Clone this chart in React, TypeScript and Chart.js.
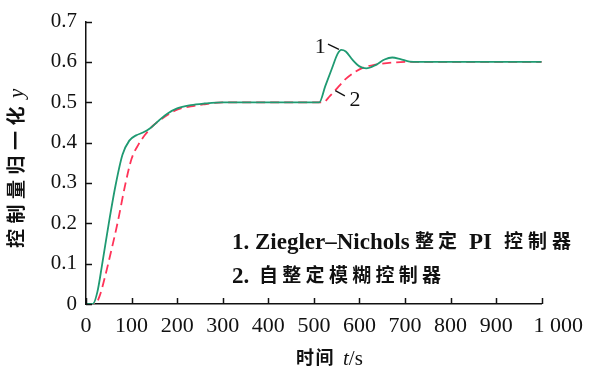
import React, { useEffect, useRef } from "react";
import { Chart, registerables } from "chart.js";

Chart.register(...registerables);

// Curve 1: Ziegler–Nichols tuned PI controller
const timeZN = [0, 15, 25, 35, 50, 65, 80, 95, 110, 125, 140, 160, 180, 200, 230, 260, 300, 400, 512, 525, 540, 552, 560, 570, 585, 600, 615, 635, 655, 672, 690, 710, 730, 800, 900, 1000];
const valueZN = [0, 0, 0.03, 0.095, 0.2, 0.295, 0.37, 0.405, 0.418, 0.425, 0.435, 0.455, 0.473, 0.485, 0.493, 0.497, 0.5, 0.5, 0.5, 0.54, 0.585, 0.62, 0.63, 0.626, 0.605, 0.589, 0.584, 0.592, 0.606, 0.611, 0.607, 0.601, 0.6, 0.6, 0.6, 0.6];

// Curve 2: self-tuning fuzzy controller
const timeFuzzy = [0, 20, 30, 40, 55, 70, 85, 100, 115, 130, 145, 165, 185, 200, 230, 260, 300, 400, 520, 535, 555, 570, 590, 610, 630, 660, 700, 800, 900, 1000];
const valueFuzzy = [0, 0, 0.02, 0.06, 0.13, 0.205, 0.29, 0.36, 0.395, 0.42, 0.44, 0.458, 0.473, 0.482, 0.49, 0.495, 0.5, 0.5, 0.5, 0.515, 0.54, 0.558, 0.575, 0.587, 0.592, 0.597, 0.6, 0.6, 0.6, 0.6];

const xTicks = [0, 100, 200, 300, 400, 500, 600, 700, 800, 900, 1000];
const yTicks = [0, 0.1, 0.2, 0.3, 0.4, 0.5, 0.6, 0.7];

const xTitleCJK = "时间";
const xTitleVar = "t";
const xTitleUnit = "/s";
const yTitleCJK = "控制量归一化";
const yTitleVar = "y";
const legend1Latin = "1. Ziegler–Nichols";
const legend1CJKa = "整定";
const legend1PI = "PI";
const legend1CJKb = "控制器";
const legend2Num = "2.";
const legend2CJK = "自整定模糊控制器";
const curveLabel1 = "1";
const curveLabel2 = "2";

// annotation anchors (data units)
const label1At = { t: 514, v: 0.636 };
const leader1 = [{ t: 531, v: 0.644 }, { t: 555, v: 0.631 }];
const label2At = { t: 590, v: 0.505 };
const leader2 = [{ t: 547, v: 0.529 }, { t: 568, v: 0.516 }];

const SERIF = "'Liberation Serif', 'DejaVu Serif', serif";
const CJK = "'Noto Sans CJK SC', sans-serif";

function drawCJK(ctx: CanvasRenderingContext2D, text: string, x: number, y: number, pitch: number) {
  const chars = Array.from(text);
  chars.forEach((c, i) => ctx.fillText(c, x + i * pitch, y));
  return x + chars.length * pitch;
}

const overlay = {
  id: "overlay",
  afterDraw(chart: any) {
    const { ctx, chartArea, scales } = chart;
    const xs = scales.x;
    const ys = scales.y;
    ctx.save();
    // inward tick marks
    ctx.strokeStyle = "#111";
    ctx.lineWidth = 1.5;
    yTicks.forEach((v) => {
      const py = Math.round(ys.getPixelForValue(v)) + 0.5;
      ctx.beginPath();
      ctx.moveTo(chartArea.left, py);
      ctx.lineTo(chartArea.left + 6, py);
      ctx.stroke();
    });
    xTicks.forEach((v) => {
      const px = Math.round(xs.getPixelForValue(v)) + 0.5;
      ctx.beginPath();
      ctx.moveTo(px, chartArea.bottom);
      ctx.lineTo(px, chartArea.bottom - 6);
      ctx.stroke();
    });

    ctx.fillStyle = "#111";
    ctx.textAlign = "left";
    ctx.textBaseline = "alphabetic";

    // legend text
    ctx.font = `bold 23px ${SERIF}`;
    ctx.fillText(legend1Latin, 232, 249);
    ctx.font = `bold 19px ${CJK}`;
    drawCJK(ctx, legend1CJKa, 415, 248, 23);
    ctx.font = `bold 23px ${SERIF}`;
    ctx.fillText(legend1PI, 469, 249);
    ctx.font = `bold 19px ${CJK}`;
    drawCJK(ctx, legend1CJKb, 504, 248, 24);

    ctx.font = `bold 23px ${SERIF}`;
    ctx.fillText(legend2Num, 232, 283);
    ctx.font = `bold 19px ${CJK}`;
    drawCJK(ctx, legend2CJK, 259, 282, 23.3);

    // curve labels and leaders
    ctx.font = `22px ${SERIF}`;
    ctx.textAlign = "center";
    ctx.textBaseline = "middle";
    ctx.fillText(curveLabel1, xs.getPixelForValue(label1At.t), ys.getPixelForValue(label1At.v));
    ctx.fillText(curveLabel2, xs.getPixelForValue(label2At.t), ys.getPixelForValue(label2At.v));
    ctx.lineWidth = 1.3;
    [leader1, leader2].forEach((seg) => {
      ctx.beginPath();
      ctx.moveTo(xs.getPixelForValue(seg[0].t), ys.getPixelForValue(seg[0].v));
      ctx.lineTo(xs.getPixelForValue(seg[1].t), ys.getPixelForValue(seg[1].v));
      ctx.stroke();
    });

    // x title
    ctx.textAlign = "left";
    ctx.textBaseline = "alphabetic";
    ctx.font = `bold 18px ${CJK}`;
    const cx = drawCJK(ctx, xTitleCJK, 296, 364, 19.5);
    ctx.font = `italic 21px ${SERIF}`;
    ctx.fillText(xTitleVar, cx + 8, 365);
    const tw = ctx.measureText(xTitleVar).width;
    ctx.font = `21px ${SERIF}`;
    ctx.fillText(xTitleUnit, cx + 8 + tw, 365);

    // y title (rotated)
    ctx.translate(23, 248);
    ctx.rotate(-Math.PI / 2);
    ctx.font = `bold 19px ${CJK}`;
    const ey = drawCJK(ctx, yTitleCJK, 0, 0, 24.5);
    ctx.font = `italic 21px ${SERIF}`;
    ctx.fillText(yTitleVar, ey + 3, 0);
    ctx.restore();
  },
};

export default function App() {
  const ref = useRef<HTMLCanvasElement>(null);
  useEffect(() => {
    if (!ref.current) return;
    const chart = new Chart(ref.current, {
      type: "line",
      data: {
        datasets: [
          {
            label: "Ziegler–Nichols PI",
            data: timeZN.map((t, i) => ({ x: t, y: valueZN[i] })),
            borderColor: "#1f9a72",
            borderWidth: 1.8,
            pointRadius: 0,
            cubicInterpolationMode: "monotone",
            fill: false,
          },
          {
            label: "自整定模糊控制器",
            data: timeFuzzy.map((t, i) => ({ x: t, y: valueFuzzy[i] })),
            borderColor: "#ff3358",
            borderWidth: 1.8,
            borderDash: [9, 5],
            pointRadius: 0,
            cubicInterpolationMode: "monotone",
            fill: false,
          },
        ],
      },
      options: {
        animation: false,
        responsive: false,
        devicePixelRatio: 1,
        layout: { padding: { left: 0, right: 45, top: 18, bottom: 0 }, autoPadding: false },
        plugins: { legend: { display: false }, tooltip: { enabled: false } },
        scales: {
          x: {
            type: "linear",
            min: 0,
            max: 1000,
            afterBuildTicks: (s: any) => {
              s.ticks = xTicks.map((v) => ({ value: v }));
            },
            afterFit: (s: any) => {
              s.height = 66;
            },
            grid: { display: true, drawOnChartArea: false, drawTicks: false },
            border: { display: true, color: "#111", width: 1.5 },
            ticks: {
              padding: 9,
              maxRotation: 0,
              autoSkip: false,
              color: "#111",
              font: { family: SERIF, size: 22 },
              callback: (v: any) => (v === 1000 ? "      1 000" : String(v)),
            },
          },
          y: {
            type: "linear",
            min: 0,
            max: 0.7,
            afterBuildTicks: (s: any) => {
              s.ticks = yTicks.map((v) => ({ value: v }));
            },
            afterFit: (s: any) => {
              s.width = 86;
            },
            grid: { display: true, drawOnChartArea: false, drawTicks: false },
            border: { display: true, color: "#111", width: 1.5 },
            ticks: {
              padding: 9,
              autoSkip: false,
              color: "#111",
              font: { family: SERIF, size: 21 },
              callback: (v: any) => (v === 0 ? "0" : Number(v).toFixed(1)),
            },
          },
        },
      },
      plugins: [overlay],
    });
    return () => chart.destroy();
  }, []);
  return (
    <div style={{ position: "absolute", left: 0, top: 0, width: 592, height: 370, background: "#fff" }}>
      <canvas ref={ref} width={592} height={370} style={{ display: "block" }} />
    </div>
  );
}
